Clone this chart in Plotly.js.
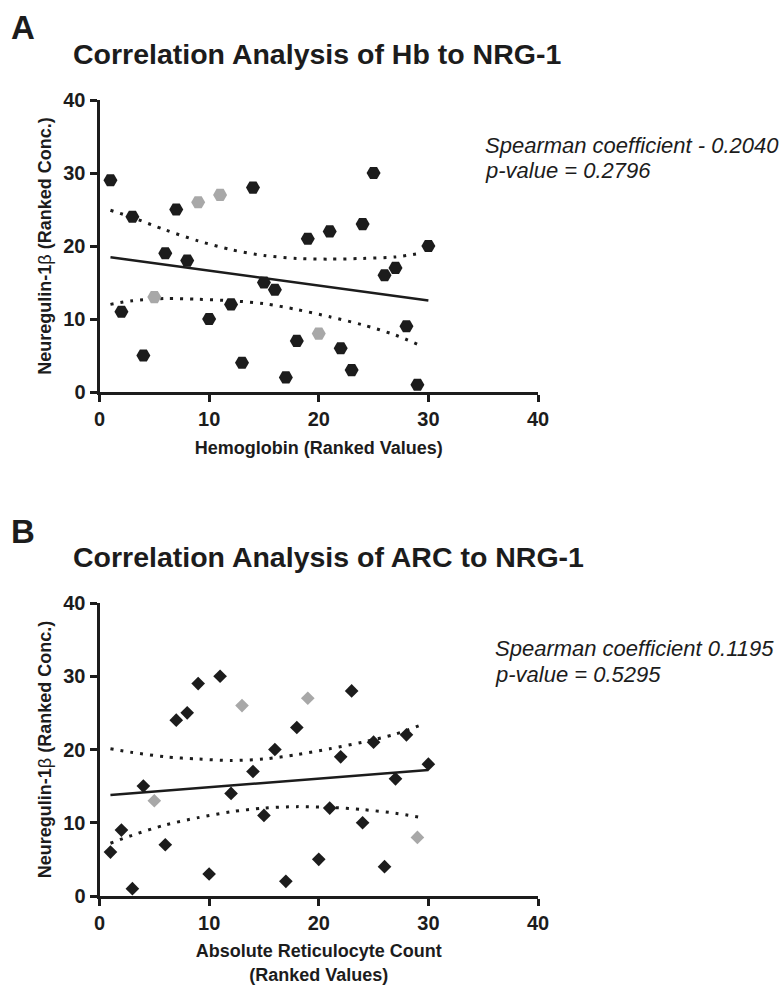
<!DOCTYPE html>
<html>
<head>
<meta charset="utf-8">
<script src="https://cdn.plot.ly/plotly-3.0.1.min.js"></script>
<style>
  html, body { margin: 0; padding: 0; background: #ffffff; }
  #chart { width: 781px; height: 986px; }
</style>
</head>
<body>
<div id="chart"></div>
<script>
// ---------- Data (ranked values) ----------
// Panel A: Hemoglobin rank vs Neuregulin-1β rank
const hbX      = [1, 2, 3, 4, 6, 7, 8, 10, 12, 13, 14, 15, 16, 17, 18, 19, 21, 22, 23, 24, 25, 26, 27, 28, 29, 30];
const hbY      = [29, 11, 24, 5, 19, 25, 18, 10, 12, 4, 28, 15, 14, 2, 7, 21, 22, 6, 3, 23, 30, 16, 17, 9, 1, 20];
const hbGrayX  = [5, 9, 11, 20];
const hbGrayY  = [13, 26, 27, 8];
const hbFitX   = [1, 30];
const hbFitY   = [18.45, 12.55];
const hbBandX  = [1, 3, 6, 9, 12, 15, 18, 21, 24, 27, 29.2];
const hbUpper  = [24.9, 23.9, 22.2, 20.7, 19.5, 18.7, 18.3, 18.2, 18.3, 18.5, 19.0];
const hbLower  = [12.0, 12.5, 12.8, 12.7, 12.5, 12.1, 11.3, 10.3, 9.2, 7.8, 6.4];

// Panel B: Absolute reticulocyte count rank vs Neuregulin-1β rank
const arcX     = [1, 2, 3, 4, 6, 7, 8, 9, 10, 11, 12, 14, 15, 16, 17, 18, 20, 21, 22, 23, 24, 25, 26, 27, 28, 30];
const arcY     = [6, 9, 1, 15, 7, 24, 25, 29, 3, 30, 14, 17, 11, 20, 2, 23, 5, 12, 19, 28, 10, 21, 4, 16, 22, 18];
const arcGrayX = [5, 13, 19, 29];
const arcGrayY = [13, 26, 27, 8];
const arcFitX  = [1, 30];
const arcFitY  = [13.8, 17.2];
const arcBandX = [1, 3, 6, 9, 12, 15, 18, 21, 24, 27, 29.4];
const arcUpper = [20.1, 19.6, 19.0, 18.7, 18.5, 18.7, 19.3, 20.1, 21.0, 22.1, 23.4];
const arcLower = [7.2, 8.3, 9.7, 10.7, 11.5, 12.0, 12.2, 12.1, 11.8, 11.3, 10.7];

const tickVals = [0, 10, 20, 30, 40];
const tickText = ["0", "10", "20", "30", "40"];

const titleA = "Correlation Analysis of Hb to NRG-1";
const titleB = "Correlation Analysis of ARC to NRG-1";
const statsA = ["Spearman coefficient - 0.2040", "p-value = 0.2796"];
const statsB = ["Spearman coefficient 0.1195", "p-value = 0.5295"];
const yTitle = "Neuregulin-1<span style=\"font-weight:normal\">β</span> (Ranked Conc.)";
const xTitleA = "Hemoglobin (Ranked Values)";
const xTitleB = "Absolute Reticulocyte Count<br>(Ranked Values)";

// ---------- Styling ----------
const W = 781, H = 986;
const FONT = "Liberation Sans, Arial, Helvetica, sans-serif";
const INK = "#1c1c1c";
const GRAY = "#a8a8a8";
const px = x => x / W;
const py = y => 1 - y / H;

const dotted = "3px,7px";

function scatter(x, y, color, symbol, size, xa, ya) {
  return { x, y, type: "scatter", mode: "markers", xaxis: xa, yaxis: ya,
    marker: { color, symbol, size, line: { width: 0 } }, hoverinfo: "skip" };
}
function line(x, y, dash, width, xa, ya, shape) {
  return { x, y, type: "scatter", mode: "lines", xaxis: xa, yaxis: ya,
    line: { color: INK, width, dash, shape: shape || "linear", smoothing: 0.8 }, hoverinfo: "skip" };
}

const traces = [
  line(hbBandX, hbUpper, dotted, 3, "x", "y", "spline"),
  line(hbBandX, hbLower, dotted, 3, "x", "y", "spline"),
  line(hbFitX, hbFitY, "solid", 2.5, "x", "y"),
  scatter(hbX, hbY, INK, "hexagon2", 14, "x", "y"),
  scatter(hbGrayX, hbGrayY, GRAY, "hexagon2", 14, "x", "y"),

  line(arcBandX, arcUpper, dotted, 3, "x2", "y2", "spline"),
  line(arcBandX, arcLower, dotted, 3, "x2", "y2", "spline"),
  line(arcFitX, arcFitY, "solid", 2.5, "x2", "y2"),
  scatter(arcX, arcY, INK, "diamond", 10.5, "x2", "y2"),
  scatter(arcGrayX, arcGrayY, GRAY, "diamond", 10.5, "x2", "y2")
];

const tickFont = { family: FONT, size: 20, color: INK, weight: "bold" };
const axTitleFont = { family: FONT, size: 18, color: INK, weight: "bold" };

function xAxis(anchor, title, standoff) {
  return {
    domain: [px(99.5), px(538)], anchor, range: [0, 40],
    tickmode: "array", tickvals: tickVals, ticktext: tickText,
    showline: true, linewidth: 3, linecolor: INK, mirror: false,
    ticks: "outside", ticklen: 7, tickwidth: 3, tickcolor: INK,
    showgrid: false, zeroline: false, tickfont: tickFont,
    title: { text: title, font: axTitleFont, standoff },
    fixedrange: true
  };
}
function yAxis(top, bottom, anchor) {
  return {
    domain: [py(bottom), py(top)], anchor, range: [0, 40],
    tickmode: "array", tickvals: tickVals, ticktext: tickText,
    showline: true, linewidth: 3, linecolor: INK,
    ticks: "outside", ticklen: 7, tickwidth: 3, tickcolor: INK,
    showgrid: false, zeroline: false, tickfont: tickFont,
    title: { text: yTitle, font: axTitleFont, standoff: 7 },
    fixedrange: true
  };
}

function textAnn(text, x, y, font, xanchor, yanchor) {
  return { text, x: px(x), y: py(y), xref: "paper", yref: "paper",
    xanchor: xanchor || "left", yanchor: yanchor || "middle", showarrow: false, font };
}
const letterFont = { family: FONT, size: 33, color: INK, weight: "bold" };
const titleFont = { family: FONT, size: 28.5, color: INK, weight: "bold" };
const statFont = { family: FONT, size: 22, color: INK, style: "italic" };

const layout = {
  width: W, height: H,
  margin: { l: 0, r: 0, t: 0, b: 0 },
  paper_bgcolor: "#ffffff", plot_bgcolor: "#ffffff",
  showlegend: false,
  font: { family: FONT, color: INK },
  xaxis: xAxis("y", xTitleA, 13),
  yaxis: yAxis(100, 392, "x"),
  xaxis2: xAxis("y2", xTitleB, 12),
  yaxis2: yAxis(603, 896, "x2"),
  annotations: [
    textAnn("A", 9, 28, letterFont),
    textAnn(titleA, 71, 54, titleFont),
    textAnn(statsA[0], 483, 145, statFont),
    textAnn(statsA[1], 483, 171, statFont),
    textAnn("B", 9, 531, letterFont),
    textAnn(titleB, 71, 557, titleFont),
    textAnn(statsB[0], 493, 648, statFont),
    textAnn(statsB[1], 493, 674, statFont)
  ]
};

Plotly.newPlot("chart", traces, layout, { staticPlot: true, displayModeBar: false });
</script>
</body>
</html>
